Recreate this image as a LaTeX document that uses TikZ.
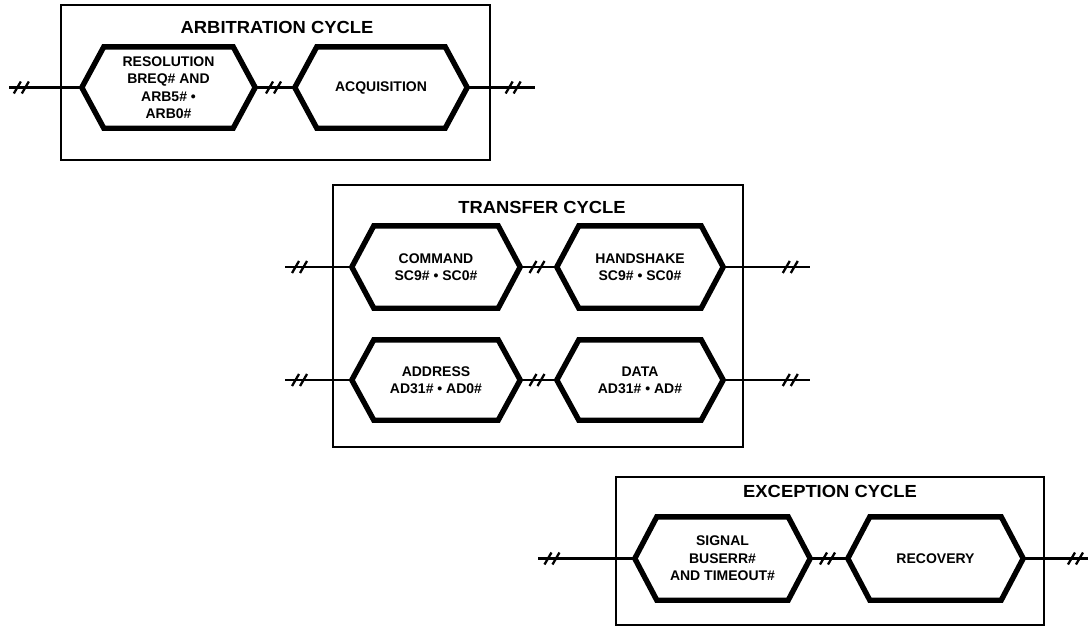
\documentclass[tikz,border=0pt]{standalone}
\usepackage{fontspec}
\newfontfamily\diagfont{Liberation Sans}
\newfontfamily\titlefont{Liberation Sans}[FakeStretch=1.05]
\tikzset{
  cyclebox/.style={draw, line width=2.3pt, rectangle, inner sep=0pt},
  cycletitle/.style={font=\titlefont\bfseries\fontsize{17.5}{20}\selectfont, inner sep=0pt},
  hexnode/.style={rectangle, inner sep=0pt, align=center,
    font=\diagfont\bfseries\fontsize{14}{17.4}\selectfont},
  hexline/.style={line width=5.4pt, line join=miter},
  wire/.style={line width=2.4pt},
  breakmark/.pic={\draw[line width=2.3pt] (-9,6) -- (-2,-6) (-1,6) -- (6,-6);}
}
\begin{document}
\begin{tikzpicture}[x=1pt,y=-1pt]
\useasboundingbox (0,0) rectangle (1088,629);
% boxes
\node[cyclebox, minimum width=429, minimum height=155] (arbbox) at (275.5,82.5) {};
\node[cyclebox, minimum width=410, minimum height=262] (trbox) at (538,316) {};
\node[cyclebox, minimum width=428, minimum height=148] (exbox) at (830,551) {};
% titles
\node[cycletitle] (arbtitle) at (277,27) {ARBITRATION CYCLE};
\node[cycletitle] (trtitle) at (542,207) {TRANSFER CYCLE};
\node[cycletitle] (extitle) at (830,491) {EXCEPTION CYCLE};
% hexagon nodes
\node[hexnode, minimum width=173, minimum height=81] (res) at (168.5,87.5) {RESOLUTION\\BREQ\# AND\\ARB5\# •\\ARB0\#};
\node[hexnode, minimum width=172, minimum height=81] (acq) at (381,87.5) {ACQUISITION};
\node[hexnode, minimum width=168, minimum height=82] (cmd) at (436,267) {COMMAND\\SC9\# • SC0\#};
\node[hexnode, minimum width=166, minimum height=82] (hand) at (640,267) {HANDSHAKE\\SC9\# • SC0\#};
\node[hexnode, minimum width=168, minimum height=80] (addr) at (436,380) {ADDRESS\\AD31\# • AD0\#};
\node[hexnode, minimum width=166, minimum height=80] (data) at (640,380) {DATA\\AD31\# • AD\#};
\node[hexnode, minimum width=175, minimum height=83] (sig) at (722.5,558.5) {SIGNAL\\BUSERR\#\\AND TIMEOUT\#};
\node[hexnode, minimum width=175, minimum height=83] (rec) at (935.5,558.5) {RECOVERY};
% free ends
\coordinate (arbin) at (9,87.5);
\coordinate (arbout) at (535,87.5);
\coordinate (cmdin) at (285,267);
\coordinate (handout) at (810,267);
\coordinate (addrin) at (285,380);
\coordinate (dataout) at (810,380);
\coordinate (sigin) at (538,558.5);
\coordinate (recout) at (1088,558.5);
% wires
\draw[wire] (arbin) -- pic[pos=0.19]{breakmark} (res.west);
\draw[wire] (res.east) -- pic[pos=0.5]{breakmark} (acq.west);
\draw[wire] (acq.east) -- pic[pos=0.7]{breakmark} (arbout);
\draw[wire] (cmdin) -- pic[pos=0.24]{breakmark} (cmd.west);
\draw[wire] (cmd.east) -- pic[pos=0.5]{breakmark} (hand.west);
\draw[wire] (hand.east) -- pic[pos=0.79]{breakmark} (handout);
\draw[wire] (addrin) -- pic[pos=0.24]{breakmark} (addr.west);
\draw[wire] (addr.east) -- pic[pos=0.5]{breakmark} (data.west);
\draw[wire] (data.east) -- pic[pos=0.79]{breakmark} (dataout);
\draw[wire] (sigin) -- pic[pos=0.16]{breakmark} (sig.west);
\draw[wire] (sig.east) -- pic[pos=0.5]{breakmark} (rec.west);
\draw[wire] (rec.east) -- pic[pos=0.83]{breakmark} (recout);
% hexagon outlines
\foreach \n in {res,acq,cmd,hand,addr,data,sig,rec}
  \draw[hexline] (\n.west) -- ([xshift=22pt]\n.north west) -- ([xshift=-22pt]\n.north east)
    -- (\n.east) -- ([xshift=-22pt]\n.south east) -- ([xshift=22pt]\n.south west) -- cycle;
\end{tikzpicture}
\end{document}
